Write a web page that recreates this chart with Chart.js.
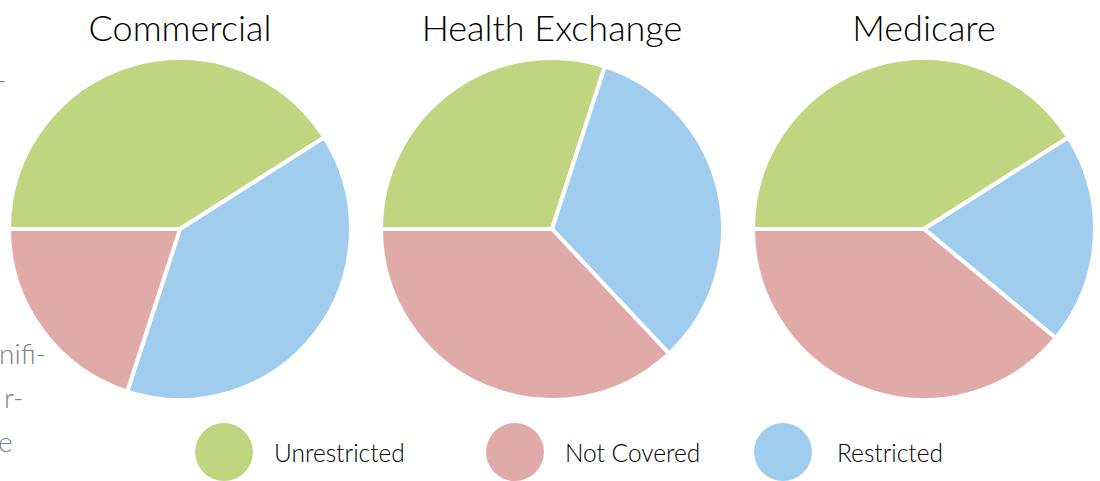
<!DOCTYPE html>
<html>
<head>
<meta charset="utf-8">
<script src="https://cdn.jsdelivr.net/npm/chart.js@4"></script>
<style>
  body { margin: 0; width: 1100px; height: 481px; overflow: hidden; background: #fff; font-family: Lato, "Noto Sans", sans-serif; position: relative; }
  .side { position: absolute; color: #7b8089; font-size: 28px; font-weight: 300; line-height: 30px; white-space: nowrap; }
  .title { position: absolute; top: 5px; width: 360px; text-align: center; font-size: 36px; font-weight: 300; color: #000; }
  .pie { position: absolute; top: 56px; width: 346px; height: 346px; }
  .legend-dot { position: absolute; width: 58px; height: 58px; border-radius: 50%; top: 423px; }
  .legend-label { position: absolute; top: 438px; font-size: 24.5px; font-weight: 300; color: #000; }
</style>
</head>
<body>
<div class="side" style="top:64px;left:-4px">-</div>
<div class="side" style="top:338px;left:-1px">nifi-</div>
<div class="side" style="top:382px;left:4px">r-</div>
<div class="side" style="top:426px;left:-2px">e</div>

<div class="title" style="left:0px">Commercial</div>
<div class="title" style="left:372px">Health Exchange</div>
<div class="title" style="left:744px">Medicare</div>

<div class="pie" style="left:7px"><canvas id="c0"></canvas></div>
<div class="pie" style="left:379px"><canvas id="c1"></canvas></div>
<div class="pie" style="left:751px"><canvas id="c2"></canvas></div>

<div id="legend"></div>

<script>
// slice order as drawn clockwise from 9 o'clock
const categories = ["Unrestricted", "Restricted", "Not Covered"];
const colors = ["#c0d580", "#a0cded", "#e0aaa9"];

const titles = ["Commercial", "Health Exchange", "Medicare"];
const commercial = [41, 39, 20];
const healthExchange = [30, 33, 37];
const medicare = [41, 20, 39];

const legendOrder = ["Unrestricted", "Not Covered", "Restricted"];
const legendX = [195, 486, 754];
const labelX = [274, 565, 837];

const seriesList = [commercial, healthExchange, medicare];

seriesList.forEach(function (values, i) {
  new Chart(document.getElementById("c" + i), {
    type: "pie",
    data: {
      labels: categories,
      datasets: [{
        label: titles[i],
        data: values,
        backgroundColor: colors,
        borderColor: "#ffffff",
        borderWidth: 4
      }]
    },
    options: {
      responsive: true,
      maintainAspectRatio: false,
      animation: false,
      rotation: -90,
      layout: { padding: 0 },
      plugins: {
        legend: { display: false },
        tooltip: { enabled: false }
      }
    }
  });
});

// legend below the pies
const legend = document.getElementById("legend");
legendOrder.forEach(function (name, i) {
  const dot = document.createElement("div");
  dot.className = "legend-dot";
  dot.style.left = legendX[i] + "px";
  dot.style.background = colors[categories.indexOf(name)];
  legend.appendChild(dot);
  const label = document.createElement("div");
  label.className = "legend-label";
  label.style.left = labelX[i] + "px";
  label.textContent = name;
  legend.appendChild(label);
});
</script>
</body>
</html>
